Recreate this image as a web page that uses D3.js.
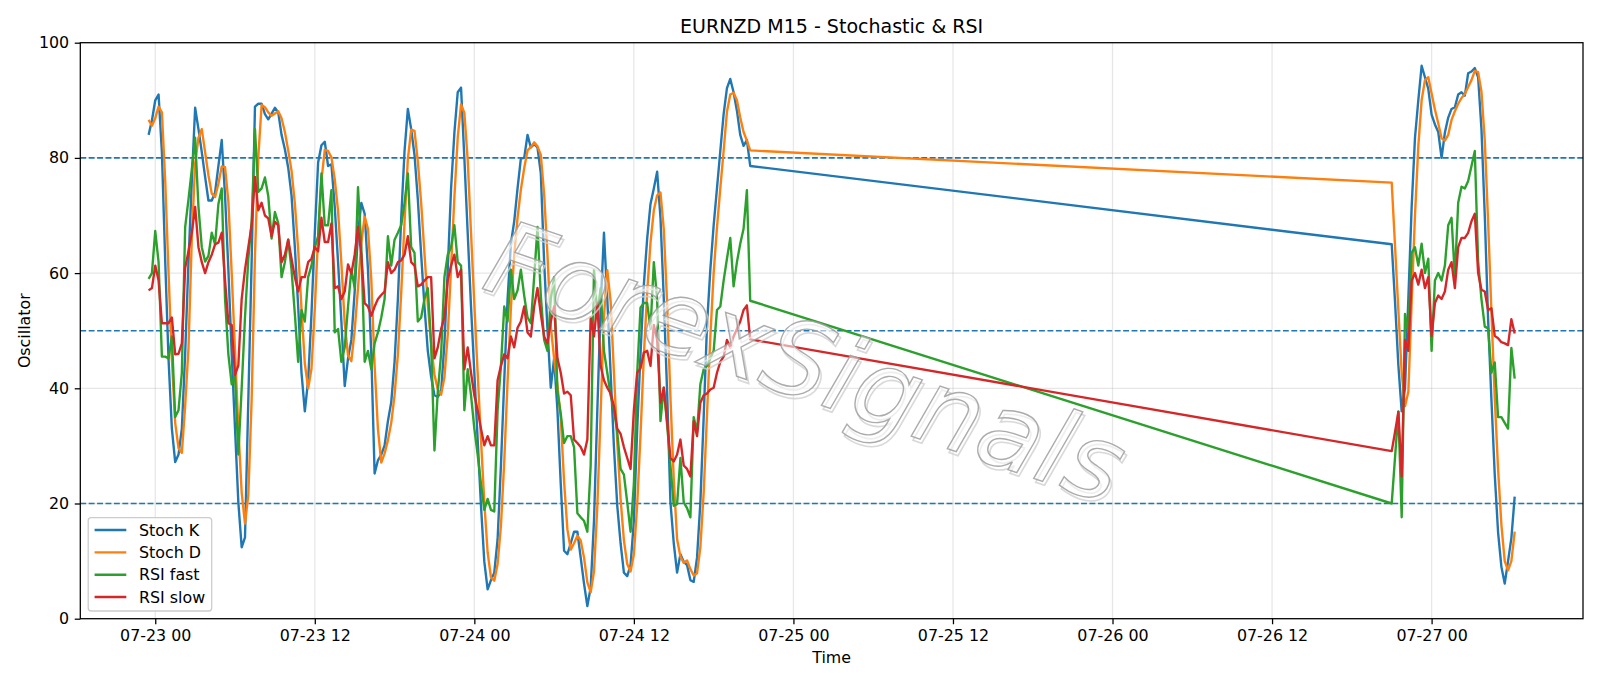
<!DOCTYPE html>
<html><head><meta charset="utf-8">
<script src="https://cdn.jsdelivr.net/npm/d3@7"></script>
<style>
body{margin:0;background:#fff}
svg text{font-family:"DejaVu Sans",sans-serif;fill:#000}
</style>
</head><body>
<svg id="chart" width="1600" height="686"></svg>
<script>
// ---- data ----
const seg1Start = "2020-07-22T23:30:00Z";
const seg2Start = "2020-07-26T21:00:00Z";
const stepMinutes = 15;

const stochK1 = [84,86.5,90,91,81,62,45,33,27.2,28.5,
33,46,62,76,88.7,85,81,76.7,72.6,72.6,
74,78.6,83.1,73.4,60.6,46,33,20.2,12.4,14.1,
38,62,88.9,89.4,89.4,87.6,86.7,87.7,88.7,87.9,
84,81.5,78.3,73.5,64.5,54.2,42.7,36,41.4,52.9,
67,79.2,82.2,82.8,78.6,78.9,71.5,61.9,51.6,40.4,
45.2,48.4,56.8,67,72.2,70.3,60.6,45.9,25.2,27.5,
28.5,30.1,34.3,37.6,44.6,55.5,69.6,81.2,88.5,85,
80.5,72.8,63.2,54.2,46.5,42,38.8,38.5,39.4,47.8,
60.6,74.7,84.4,91.4,92.2,79.9,67,54.2,42.7,31.1,
19.6,9.9,5.1,6.7,8,13.8,26.6,41.4,55.5,65.1,
69,74.7,79.9,80,84,81.8,82.4,81.8,77.3,61.9,
50.3,40.1,45.2,36.2,23.4,11.8,11.2,13.1,15.1,15.1,
10.6,6.1,2.2,5.4,17,36.2,54.2,67,55.5,42.7,
29.8,19.6,13.1,8,7.4,9.3,17,33,46,58,
66,72,74.7,77.6,69.6,55.5,39.4,20.2,13.1,8,
11.2,9.9,9.3,6.7,6.4,10.6,20.2,35,51,60.6,
68.3,74.7,81.2,87.6,92.1,93.7,91.4,88.2,84,82.1,
83.1,78.6];
const stochK2 = [65,55,44,36,40,55.5,71.5,83.5,90,96,
94,92,87.5,85.8,84.5,80,84.4,87,88.5,88.8,
91,91.4,90.8,94.7,95,95.6,94,85,70,52,
38,25,15,9,6.1,10,14,21.2];

const stochD1 = [86.6,85.6,86.9,88.9,87.9,76,60,45,34,29.6,
28.8,37,47,66,79,83.5,85,81,77,73.8,
73.2,75.5,78.5,78.4,72.4,60,46.5,33.1,21.9,16.5,
21.5,38,63,80.1,89.2,88.8,87.9,87.3,87.7,88.1,
86.9,84.5,81.3,77.8,72.1,64.1,53.8,44.3,40,43.4,
53.8,66.4,76.1,81.4,81.2,80.1,76.3,70.8,61.7,51.3,
45.7,44.7,50.1,57.4,65.3,69.8,67.7,58.9,43.9,32.9,
27.1,28.7,31,34,38.8,45.9,56.6,68.8,79.8,84.9,
84.7,79.4,72.2,63.4,54.6,47.6,42.4,39.8,38.9,41.9,
49.3,61,73.2,83.5,89.3,87.8,79.7,67,54.6,42.7,
31.1,20.2,11.5,7.2,6.6,9.5,16.1,27.3,41.2,54,
63.2,69.6,74.5,78.2,81.3,81.9,82.7,82,80.5,73.7,
63.2,50.8,45.2,40.5,34.9,23.8,15.5,12,13.1,14.4,
13.6,10.6,6.3,4.6,8.2,19.5,35.8,52.5,60.5,55.1,
42.7,30.7,20.8,13.6,9.5,8.2,11.2,19.8,32,45.7,
56.7,65.3,70.9,73.5,74,67.6,54.8,38.4,24.2,13.8,
10.8,9.7,10.1,8.6,7.5,7.9,12.4,21.9,35.4,48.9,
60,67.9,74.7,81.2,88,91,91.3,90,87,84.5,
83,81.3];
const stochD2 = [75.7,64.7,53.6,42.7,36.9,39.4,55,70,82,90,
93.5,94,91.2,88.4,86,83.4,83,84,86.6,88.1,
89.4,90.4,91.1,92.3,93.5,95.1,94.9,91.5,83,69,
53.3,38.3,26,16.3,10,8.4,10,15.1];

const rsiFast1 = [59,60,67.3,61.9,45.5,45.5,45.2,49,35,36.2,
42.7,68,72.8,78,83.5,71.5,64.5,62,63,67,
65,72,74.7,55.5,45.9,40.7,42,28.5,40,52.3,
62.5,68.9,85,74.1,74.7,76.6,73.4,66,70.6,68.7,
59.3,61.9,65.8,60.6,52.9,44.6,53.6,51.6,59.3,61.3,
64.5,66.4,77.3,68.3,68.3,74.4,49.7,50.3,44.6,47.1,
54.2,60.6,57.4,74.9,64.5,44.6,46.5,43.3,47.8,49.7,
52.3,55.5,66.4,61.3,65.8,67,68.3,72.2,77.3,64.5,
63.5,51.6,52.3,55.5,57.4,47.8,29.2,39.4,45.9,59.3,
63.2,64.5,68.3,61.9,61.3,36.2,43.3,38.8,33,28.5,
23.4,18.9,20.8,18.9,18.6,36.2,43.9,54.2,51.6,60.6,
55.5,57,60.6,56.1,52.3,51.3,59.3,68,56.1,48.4,
46.5,55.5,59.3,39.4,35.6,30.5,31.7,31.7,29.8,18.3,
17.6,17,15.1,26.6,60.6,52.9,57.4,46.5,42.7,38.8,
36.2,32.4,26,25,20.2,15.1,23.4,42.7,54,54.8,
54.8,50.3,61.9,55.5,34.3,40.1,33.7,26.6,19.6,19.9,
27.9,20.2,19.2,17.6,35,32.4,40.7,43.3,43.9,45.2,
46.5,53.6,54.2,58.7,62.5,66.1,57.7,61.9,65.1,67.7,
74.4,55.2];
const rsiFast2 = [20,28,36,17.6,52.9,49.7,63.5,64.5,61.3,65.1,
60,62.5,46.5,58.7,60,58.7,61.3,68.3,69.6,59.3,
72.2,75,74.7,76,78.6,81.2,62,55.5,50.7,50.4,
42.7,44.5,35,35,34,33,47,41.7];

const rsiSlow1 = [57,57.4,61.3,58.7,51.3,51.3,51.3,52.3,45.9,46,
47.8,60.9,63.8,67,71.5,64.5,61.9,60,61.9,63.2,
65,65.3,67,58.7,51.3,51,42.3,44,55.5,60.6,
64.5,68.3,76.7,70.9,72.2,70,69.5,66.4,68.9,68.3,
61.9,63.2,65.8,62.5,59.3,56.8,59.3,59.3,61.9,62.5,
64.5,63.8,69.6,65.4,65.4,68.6,57.4,57.7,55.5,56.8,
61.5,59.9,63.2,68,63.2,54.8,54.2,52.6,54.2,55.5,
56.2,56.8,61.9,60,60.6,61.9,62.2,63.2,66.4,61.9,
61.3,57.7,58,58.7,59.3,59.3,45.2,47.1,50.3,52.3,
58.7,61.3,63.2,59.3,60.6,43.3,47.1,42.7,38.8,36.2,
33,30.1,31.7,30.1,30.1,41.4,43.9,45.9,45.2,49,
47.1,50.5,51.6,54.2,49.7,49,54.2,57.4,52.9,49,
47.8,51.6,54.2,45.2,42.7,39.1,39.4,38.8,31.1,30.5,
29.8,28.5,31.1,52.3,49,54.8,43.9,41.4,40.1,39.1,
36.9,33,32.1,29.8,27.9,26,36.2,42.7,43.5,46.2,
46.5,43.9,51,48.4,37.5,40.1,34.3,27.9,27.3,28.5,
31.1,26.6,26,24.7,34.3,31.7,37.5,38.8,39.1,39.8,
40.1,42.7,44.6,45.5,48.4,47.1,49,50.3,51.6,53.6,
54.4,48.5];
const rsiSlow2 = [29.1,32.4,35.9,24.7,48.4,46.5,58.7,60,58,60.6,
57.4,59.3,49.1,54.8,56.1,55.5,56.8,60.6,61.9,57.4,
64.5,66.1,66.1,67,69,70.3,60,57.1,56.8,53.6,
53.9,49.1,48.7,48,47.8,47.5,52,49.5];

const seriesNames = ["Stoch K","Stoch D","RSI fast","RSI slow"];
const seriesColors = ["#1f77b4","#ff7f0e","#2ca02c","#d62728"];
const xTickDates = ["2020-07-23T00:00:00Z","2020-07-23T12:00:00Z","2020-07-24T00:00:00Z","2020-07-24T12:00:00Z",
  "2020-07-25T00:00:00Z","2020-07-25T12:00:00Z","2020-07-26T00:00:00Z","2020-07-26T12:00:00Z","2020-07-27T00:00:00Z"];
const xTickLabels = ["07-23 00","07-23 12","07-24 00","07-24 12","07-25 00","07-25 12","07-26 00","07-26 12","07-27 00"];
const yTicks = [0,20,40,60,80,100];
const refLevels = [20,50,80];
const titleText = "EURNZD M15 - Stochastic & RSI";
const watermarkText = "ForexSignals";

// ---- build ----
const svg = d3.select("#chart");
const L = 80.3, R = 1583, T = 42.7, B = 618.7;
const stepMs = stepMinutes * 60000;
const t1 = Date.parse(seg1Start), t2 = Date.parse(seg2Start);
const times = stochK1.map((_, i) => new Date(t1 + i * stepMs))
  .concat(stochK2.map((_, i) => new Date(t2 + i * stepMs)));
const series = [stochK1.concat(stochK2), stochD1.concat(stochD2), rsiFast1.concat(rsiFast2), rsiSlow1.concat(rsiSlow2)];

const tMin = +times[0], tMax = +times[times.length - 1];
const pad = (tMax - tMin) * 0.05;
const x = d3.scaleUtc().domain([new Date(tMin - pad), new Date(tMax + pad)]).range([L, R]);
const y = d3.scaleLinear().domain([0, 100]).range([B, T]);
const tickDates = xTickDates.map(s => new Date(s));

// grid
const grid = svg.append("g");
grid.selectAll("line.gx").data(tickDates).join("line")
  .attr("x1", d => x(d)).attr("x2", d => x(d)).attr("y1", T).attr("y2", B)
  .attr("stroke", "#b0b0b0").attr("stroke-opacity", 0.3).attr("stroke-width", 1.27);
grid.selectAll("line.gy").data(yTicks).join("line")
  .attr("x1", L).attr("x2", R).attr("y1", d => y(d)).attr("y2", d => y(d))
  .attr("stroke", "#b0b0b0").attr("stroke-opacity", 0.3).attr("stroke-width", 1.27);

// reference levels
svg.append("g").selectAll("line").data(refLevels).join("line")
  .attr("x1", L).attr("x2", R).attr("y1", d => y(d)).attr("y2", d => y(d))
  .attr("stroke", "#1f77b4").attr("stroke-width", 1.59).attr("stroke-dasharray", "5.87,2.54");

// lines
svg.append("clipPath").attr("id", "clip").append("rect")
  .attr("x", L).attr("y", T).attr("width", R - L).attr("height", B - T);
const line = d3.line().x((d, i) => x(times[i])).y(d => y(d));
svg.append("g").attr("clip-path", "url(#clip)").selectAll("path").data(series).join("path")
  .attr("d", d => line(d)).attr("fill", "none")
  .attr("stroke", (d, i) => seriesColors[i]).attr("stroke-width", 2.38)
  .attr("stroke-linejoin", "round").attr("stroke-linecap", "butt");

// watermark (soft shadow + outlined text)
const wm = svg.append("g").attr("transform", "translate(806,362) rotate(19)");
wm.append("text").attr("x", 3).attr("y", 3)
  .attr("text-anchor", "middle").attr("dominant-baseline", "central")
  .style("font-size", "104px").style("font-style", "italic")
  .style("fill", "none").style("stroke", "#d0d0d0").style("stroke-width", 1.6).style("stroke-opacity", 0.8)
  .text(watermarkText);
wm.append("text")
  .attr("text-anchor", "middle").attr("dominant-baseline", "central")
  .style("font-size", "104px").style("font-style", "italic")
  .style("fill", "#ffffff").style("fill-opacity", 0.55)
  .style("stroke", "#9e9e9e").style("stroke-width", 1.4).style("stroke-opacity", 0.85)
  .text(watermarkText);

// spines
svg.append("rect").attr("x", L).attr("y", T).attr("width", R - L).attr("height", B - T)
  .attr("fill", "none").attr("stroke", "#000").attr("stroke-width", 1.27);

// axes
const xAxis = svg.append("g").attr("transform", `translate(0,${B})`)
  .call(d3.axisBottom(x).tickValues(tickDates).tickFormat((d, i) => xTickLabels[i])
    .tickSize(5.56).tickPadding(5.0).tickSizeOuter(0));
const yAxis = svg.append("g").attr("transform", `translate(${L},0)`)
  .call(d3.axisLeft(y).tickValues(yTicks).tickFormat(d3.format("d"))
    .tickSize(5.56).tickPadding(5.56).tickSizeOuter(0));
[xAxis, yAxis].forEach(a => {
  a.select(".domain").remove();
  a.selectAll(".tick line").attr("stroke", "#000").attr("stroke-width", 1.27);
  a.selectAll(".tick text").style("font-size", "15.87px").style("font-family", '"DejaVu Sans",sans-serif');
});

// title and labels
svg.append("text").attr("x", (L + R) / 2).attr("y", 33.2).attr("text-anchor", "middle")
  .style("font-size", "19.05px").text(titleText);
svg.append("text").attr("x", (L + R) / 2).attr("y", 657).attr("text-anchor", "middle")
  .attr("dominant-baseline", "central").style("font-size", "15.87px").text("Time");
svg.append("text").attr("transform", `translate(24.5,${(T + B) / 2}) rotate(-90)`).attr("text-anchor", "middle")
  .attr("dominant-baseline", "central").style("font-size", "15.87px").text("Oscillator");

// legend
const lg = svg.append("g");
lg.append("rect").attr("x", 88.2).attr("y", 517.7).attr("width", 123.5).attr("height", 93.3).attr("rx", 3)
  .attr("fill", "#fff").attr("fill-opacity", 0.8).attr("stroke", "#cccccc").attr("stroke-width", 1.27);
const rows = lg.selectAll("g").data(seriesNames).join("g")
  .attr("transform", (d, i) => `translate(0,${530 + i * 22.35})`);
rows.append("line").attr("x1", 94.6).attr("x2", 126.3).attr("y1", 0).attr("y2", 0)
  .attr("stroke", (d, i) => seriesColors[i]).attr("stroke-width", 2.38);
rows.append("text").attr("x", 139).attr("y", 0).attr("dominant-baseline", "central")
  .style("font-size", "15.87px").text(d => d);
</script>
</body></html>
